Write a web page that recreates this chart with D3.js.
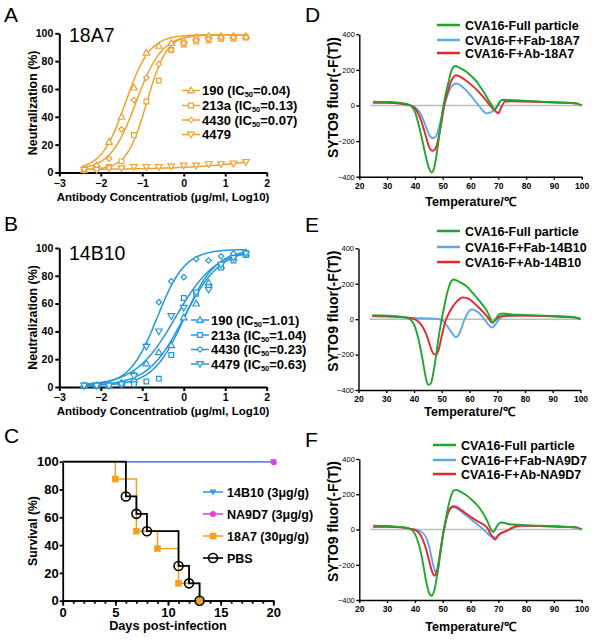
<!DOCTYPE html>
<html><head><meta charset="utf-8">
<script src="https://cdn.jsdelivr.net/npm/d3@7"></script>
<style>body{margin:0;background:#fff}svg{font-family:"Liberation Sans",Arial,sans-serif}</style>
</head><body><svg id="c" width="600" height="640"></svg>
<script>
// ---------------- DATA ----------------
const logConc = [-2.4,-2.1,-1.8,-1.5,-1.2,-0.9,-0.6,-0.3,0,0.3,0.6,0.9,1.2,1.5];
const strains = ["190","213a","4430","4479"];
const ic50A = ["0.04","0.13","0.07",null];
const ic50B = ["1.01","1.04","0.23","0.63"];
const neutA190  = [2,5,22,40,61,86,91,93,95,97,98,98,98,98];
const neutA213a = [2,3,4,8,27,51,66,88,92,94,95,96,96,97];
const neutA4430 = [2,5,10,31,52,68,78,88,93,95,96,97,97,97];
const neutA4479 = [2,2,3,3,4,4,4,4.5,5,5,6,6,6.5,7.5];
const neutB190  = [1,1,1,3,5,17,25,30,50,60,75,87,93,96];
const neutB213a = [1,1,1,2,2,4,6,23,64,67,72,86,91,95];
const neutB4430 = [1,1,2,3,9,30,61,76,79,92,91,94,96,97];
const neutB4479 = [1,1,1,2,8,29,40,51,57,68,70,88,93,96];
// 4-parameter logistic fits: [bottom, top, logIC50, hill]
const fitA = [[2,99,-1.4,1.5],[2,99,-0.89,1.8],[2,99,-1.15,1.4],[2,100,5,0.35]];
const fitB = [[1,99,0.004,1.0],[1,99,0.017,1.15],[1,99,-0.64,1.3],[1,99,-0.2,0.9]];
const xTicksAB = [-3,-2,-1,0,1,2];
const yTicksAB = [0,20,40,60,80,100];

const survGroups = ["14B10 (3μg/g)","NA9D7 (3μg/g)","18A7 (30μg/g)","PBS"];
const days14B10 = [0,20], surv14B10 = [100,100];
const daysNA9D7 = [0,20], survNA9D7 = [100,100];
const days18A7 = [0,5,7,9,11,13], surv18A7 = [100,87.5,50,37.5,12.5,0];
const daysPBS = [0,6,7,8,11,12,13], survPBS = [100,75,62.5,50,25,12.5,0];

const meltLegendD = ["CVA16-Full particle","CVA16-F+Fab-18A7","CVA16-F+Ab-18A7"];
const meltLegendE = ["CVA16-Full particle","CVA16-F+Fab-14B10","CVA16-F+Ab-14B10"];
const meltLegendF = ["CVA16-Full particle","CVA16-F+Fab-NA9D7","CVA16-F+Ab-NA9D7"];
const meltD_full = [[25,22],[30,20],[35,14],[38,4],[40,-35],[42,-150],[44,-290],[45,-350],[46,-376],[47,-345],[48,-255],[49,-140],[50,-25],[51,60],[52,125],[53,190],[54,218],[54.6,222],[56,212],[58,195],[60,170],[62,138],[63.5,105],[65,70],[66.4,32],[67.5,5],[68.7,-22],[69.5,-8],[70.5,20],[71.5,32],[74,30],[80,26],[85,22],[90,18],[95,14],[98,12],[100,0]];
const meltD_fab = [[25,20],[30,18],[35,12],[38,3],[40,-10],[42,-45],[44,-120],[45,-160],[46.4,-184],[47.5,-175],[48.5,-130],[49.5,-70],[50.5,0],[52,70],[53,105],[54.8,124],[56,117],[58,92],[60,58],[62,18],[63,0],[64.5,-30],[65.8,-44],[67,-40],[68.5,-25],[70,5],[71.2,30],[73,30],[80,25],[90,18],[98,12],[100,0]];
const meltD_ab = [[25,15],[30,15],[35,10],[38,2],[40,-15],[42,-75],[44,-175],[45,-228],[46.4,-255],[47.5,-240],[48.5,-180],[49.5,-100],[50.5,-5],[51.5,60],[53,135],[54.8,170],[56,164],[58,145],[60,120],[62,92],[64,58],[66,20],[68,-18],[69,-32],[70,-44],[71,-12],[72.4,22],[75,24],[85,20],[92,16],[98,12],[100,0]];
const meltE_full = [[25,22],[30,20],[35,14],[38,5],[40,-30],[42,-140],[43,-220],[44,-310],[45,-370],[46,-365],[47,-300],[48,-200],[49,-90],[50,0],[51,80],[52,150],[53,200],[54.2,224],[55.5,218],[57,205],[59,185],[61,150],[63,115],[65,75],[66.5,40],[67.6,0],[68.2,-22],[69,-10],[70,15],[71,30],[72,32],[75,27],[80,24],[85,21],[90,18],[95,14],[98,10],[100,0]];
const meltE_fab = [[25,18],[30,16],[35,10],[40,6],[45,4],[48,2],[50,-5],[52,-40],[54,-85],[55,-102],[56,-92],[57,-55],[58,-10],[59,25],[60,48],[61,55],[62,50],[63,40],[64,25],[65,5],[66,-15],[67,-35],[68,-48],[69,-38],[70,-15],[71,5],[72,15],[75,18],[80,20],[90,16],[98,10],[100,0]];
const meltE_ab = [[25,18],[30,16],[35,12],[38,8],[40,2],[42,-20],[44,-70],[45,-110],[46,-160],[47,-195],[48,-200],[49,-165],[50,-95],[51,-30],[52,15],[53,45],[54,72],[55,92],[56,108],[57.5,123],[59,120],[61,100],[63,70],[65,40],[67,2],[68,-18],[69,-10],[70,5],[71,15],[73,20],[80,20],[90,16],[98,10],[100,0]];
const meltF_full = [[25,22],[30,20],[35,14],[38,5],[40,-25],[42,-120],[43,-200],[44,-290],[45,-355],[46,-376],[47,-345],[48,-260],[49,-150],[50,-40],[51,50],[52,130],[53,190],[54,222],[55,225],[56,218],[58,200],[60,175],[62,145],[64,105],[66,50],[67.5,-5],[68.2,-15],[69,5],[70,30],[71,40],[72,38],[74,30],[78,26],[85,22],[92,17],[98,12],[100,0]];
const meltF_fab = [[25,18],[30,17],[35,12],[38,5],[40,0],[42,-10],[44,-45],[45,-90],[46,-160],[47,-225],[48,-252],[49,-150],[50,-40],[51,40],[52,95],[53,120],[54,126],[55,120],[56,110],[58,85],[60,60],[62,35],[64,8],[66,-20],[67,-35],[68,-42],[69,-45],[70,-30],[71,-22],[73,-8],[75,8],[78,18],[85,20],[92,16],[98,12],[100,0]];
const meltF_ab = [[25,15],[30,16],[35,12],[38,5],[40,-2],[42,-30],[44,-110],[45,-170],[46,-230],[47,-262],[48,-230],[49,-140],[50,-40],[51,40],[52,100],[53,125],[54,132],[55,128],[56,118],[58,95],[60,72],[62,52],[64,34],[66,10],[67,-20],[68,-45],[68.8,-57],[70,-35],[71,-20],[72,-14],[74,0],[76,18],[78,22],[85,20],[92,16],[98,12],[100,0]];

// ---------------- DRAWING ----------------
const FONT = '"Liberation Sans",Arial,sans-serif';
const svg = d3.select("#c");
const ORANGE = "#F2A12E", BLUE = "#2298DC";
const GREEN = "#22A52C", LBLUE = "#5DA8E8", RED = "#E8262B";
const fmt = d3.format("d");

function text(x, y, s, o = {}) {
  return svg.append("text").attr("x", x).attr("y", y).text(s)
    .attr("font-size", o.size || 12).attr("font-weight", o.weight || "normal")
    .attr("text-anchor", o.anchor || "start").attr("fill", "#000")
    .attr("font-family", FONT)
    .attr("transform", o.rot ? `rotate(-90,${x},${y})` : null);
}
function styleAxis(g, sw, fs, fw) {
  g.attr("font-family", FONT);
  g.select(".domain").attr("stroke", "#000").attr("stroke-width", sw);
  g.selectAll(".tick line").attr("stroke", "#000").attr("stroke-width", sw);
  g.selectAll(".tick text").attr("font-size", fs).attr("font-weight", fw).attr("fill", "#000");
}
const symTri = d3.symbol().type(d3.symbolTriangle).size(19);
const symSq = d3.symbol().type(d3.symbolSquare).size(22);
const symDia = d3.symbol().type(d3.symbolSquare).size(15);
function marker(g, kind, x, y, color, fill) {
  let p;
  if (kind === 0) p = g.append("path").attr("d", symTri()).attr("transform", `translate(${x},${y+0.5})`);
  else if (kind === 1) p = g.append("path").attr("d", symSq()).attr("transform", `translate(${x},${y})`);
  else if (kind === 2) p = g.append("path").attr("d", symDia()).attr("transform", `translate(${x},${y}) rotate(45)`);
  else p = g.append("path").attr("d", symTri()).attr("transform", `translate(${x},${y-0.5}) rotate(180)`);
  p.attr("fill", fill || "#fff").attr("stroke", color).attr("stroke-width", 1.2);
  return p;
}
function logistic(f, x) { return f[0] + (f[1] - f[0]) / (1 + Math.pow(10, (f[2] - x) * f[3])); }

function neutPanel(o) {
  const x = d3.scaleLinear([-3, 2], [59.3, 266.7]);
  const y = d3.scaleLinear([0, 100], [o.y0, o.y100]);
  const gx = svg.append("g").attr("transform", `translate(0,${o.y0})`)
    .call(d3.axisBottom(x).tickValues(xTicksAB).tickFormat(fmt).tickSize(4).tickSizeOuter(0).tickPadding(3));
  styleAxis(gx, 2, 10.5, "bold");
  const gy = svg.append("g").attr("transform", `translate(59.3,0)`)
    .call(d3.axisLeft(y).tickValues(yTicksAB).tickFormat(fmt).tickSize(4).tickSizeOuter(0).tickPadding(2));
  styleAxis(gy, 2, 10.5, "bold");
  const g = svg.append("g");
  const xs = d3.range(-2.45, 1.5001, 0.02);
  o.fits.forEach((f, i) => {
    g.append("path").datum(xs).attr("fill", "none").attr("stroke", o.color).attr("stroke-width", 1.5)
      .attr("d", d3.line().x(d => x(d)).y(d => y(logistic(f, d))));
  });
  o.series.forEach((s, i) => {
    s.forEach((v, j) => marker(g, i, x(logConc[j]), y(v), o.color));
  });
  text(4, o.letterY, o.letter, { size: 21 });
  text(69, o.titleY, o.title, { size: 19.5 });
  text(163, o.xlabY, "Antibody Concentratiob (μg/ml, Log10)", { size: 11.5, weight: "bold", anchor: "middle" });
  text(37, (o.y0 + o.y100) / 2, "Neutralization (%)", { size: 12.4, weight: "bold", anchor: "middle", rot: true });
  // legend
  o.legY.forEach((ly, i) => {
    g.append("line").attr("x1", o.legX).attr("x2", o.legX + 18).attr("y1", ly).attr("y2", ly)
      .attr("stroke", o.color).attr("stroke-width", 1.5);
    marker(g, i, o.legX + 9, ly, o.color);
    const t = text(o.legX + 20, ly + 4.6, "", { size: 13, weight: "bold" });
    if (o.ic50[i]) {
      t.append("tspan").text(strains[i] + " (IC");
      t.append("tspan").text("50").attr("font-size", 7.5).attr("dy", 2.2);
      t.append("tspan").text("=" + o.ic50[i] + ")").attr("dy", -2.2);
    } else t.text(strains[i]);
  });
}

neutPanel({ y0: 172.5, y100: 33.3, letter: "A", letterY: 22, title: "18A7", titleY: 42, xlabY: 201,
  color: ORANGE, fits: fitA, series: [neutA190, neutA213a, neutA4430, neutA4479], ic50: ic50A,
  legX: 182, legY: [90.5, 105.5, 120, 134.5] });
neutPanel({ y0: 387, y100: 248, letter: "B", letterY: 231, title: "14B10", titleY: 260, xlabY: 415,
  color: BLUE, fits: fitB, series: [neutB190, neutB213a, neutB4430, neutB4479], ic50: ic50B,
  legX: 191, legY: [320, 335, 349.5, 364] });

// ---- Panel C ----
(function () {
  const x = d3.scaleLinear([0, 20], [62.7, 273.3]);
  const y = d3.scaleLinear([0, 100], [600.7, 461.7]);
  const gxm = svg.append("g").attr("transform", `translate(0,600.7)`)
    .call(d3.axisBottom(x).tickValues(d3.range(0, 21, 1)).tickSize(3).tickSizeOuter(0).tickFormat(""));
  styleAxis(gxm, 1.8, 12, "bold");
  const gx = svg.append("g").attr("transform", `translate(0,600.7)`)
    .call(d3.axisBottom(x).tickValues([0,5,10,15,20]).tickFormat(fmt).tickSize(5).tickSizeOuter(0).tickPadding(2));
  styleAxis(gx, 1.8, 13, "bold");
  const gy = svg.append("g").attr("transform", `translate(62.7,0)`)
    .call(d3.axisLeft(y).tickValues([0,20,40,60,80,100]).tickFormat(fmt).tickSize(3).tickSizeOuter(0).tickPadding(1));
  styleAxis(gy, 1.8, 13, "bold");
  const line = d3.line().curve(d3.curveStepAfter).x(d => x(d[0])).y(d => y(d[1]));
  const zip = (a, b) => a.map((v, i) => [v, b[i]]);
  const g = svg.append("g");
  const groups = [
    { d: zip(daysNA9D7, survNA9D7), c: "#E23FE0", w: 1.5 },
    { d: zip(days14B10, surv14B10), c: "#3A9BEA", w: 1.5 },
    { d: zip(days18A7, surv18A7), c: "#F5A020", w: 1.5 },
    { d: zip(daysPBS, survPBS), c: "#000", w: 1.8 }];
  groups.forEach(s => g.append("path").datum(s.d).attr("fill", "none").attr("stroke", s.c).attr("stroke-width", s.w).attr("d", line));
  // markers
  const m14 = (gg, cx, cy) => gg.append("path").attr("d", d3.symbol().type(d3.symbolTriangle).size(20)()).attr("transform", `translate(${cx},${cy-0.5}) rotate(180)`).attr("fill", "#3A9BEA");
  const mNA = (gg, cx, cy) => gg.append("circle").attr("cx", cx).attr("cy", cy).attr("r", 3).attr("fill", "#E23FE0");
  const m18 = (gg, cx, cy) => gg.append("rect").attr("x", cx - 3.3).attr("y", cy - 3.3).attr("width", 6.6).attr("height", 6.6).attr("fill", "#F5A020");
  const mP = (gg, cx, cy) => gg.append("circle").attr("cx", cx).attr("cy", cy).attr("r", 4.5).attr("fill", "none").attr("stroke", "#000").attr("stroke-width", 1.6);
  m14(g, x(20), y(100)); mNA(g, x(20) + 0.5, y(100) + 0.5);
  days18A7.slice(1).forEach((d, i) => m18(g, x(d), y(surv18A7[i + 1])));
  daysPBS.slice(1).forEach((d, i) => mP(g, x(d), y(survPBS[i + 1])));
  const colors = ["#3A9BEA", "#E23FE0", "#F5A020", "#000"];
  const mk = [m14, mNA, m18, mP];
  [492, 514, 536, 558].forEach((ly, i) => {
    g.append("line").attr("x1", 203).attr("x2", 223).attr("y1", ly).attr("y2", ly).attr("stroke", colors[i]).attr("stroke-width", 1.6);
    mk[i](g, 213, ly);
    text(227, ly + 4.5, survGroups[i], { size: 12.5, weight: "bold" });
  });
  text(4, 443, "C", { size: 21 });
  text(168, 630, "Days post-infection", { size: 12.7, weight: "bold", anchor: "middle" });
  text(37, 531, "Survival (%)", { size: 12.2, weight: "bold", anchor: "middle", rot: true });
})();

// ---- Panels D, E, F ----
function meltPanel(o) {
  const x = d3.scaleLinear([20, 100], o.xr);
  const y = d3.scaleLinear([-400, 400], o.yr);
  const gx = svg.append("g").attr("transform", `translate(0,${o.yr[0]})`)
    .call(d3.axisBottom(x).tickValues(d3.range(20, 101, 10)).tickFormat(fmt).tickSize(3).tickSizeOuter(0).tickPadding(3));
  styleAxis(gx, 1.4, 8.5, "bold");
  const gy = svg.append("g").attr("transform", `translate(${o.xr[0]},0)`)
    .call(d3.axisLeft(y).tickValues([-400,-200,0,200,400]).tickFormat(fmt).tickSize(3).tickSizeOuter(0).tickPadding(1.5));
  styleAxis(gy, 1.4, 7.5, "normal");
  const g = svg.append("g");
  g.append("line").attr("x1", x(24)).attr("x2", x(100)).attr("y1", y(0)).attr("y2", y(0))
    .attr("stroke", "#BDBDBD").attr("stroke-width", 1.5);
  const line = d3.line().curve(d3.curveMonotoneX).x(d => x(d[0])).y(d => y(d[1]));
  [[o.fab, LBLUE], [o.ab, RED], [o.full, GREEN]].forEach(([d, c]) =>
    g.append("path").datum(d).attr("fill", "none").attr("stroke", c).attr("stroke-width", 1.9).attr("d", line));
  const lc = [GREEN, LBLUE, RED];
  o.legY.forEach((ly, i) => {
    g.append("line").attr("x1", o.legX).attr("x2", o.legX + 23).attr("y1", ly).attr("y2", ly).attr("stroke", lc[i]).attr("stroke-width", 2.5);
    text(o.legX + 28, ly + 4.5, o.leg[i], { size: 12.5, weight: "bold" });
  });
  text(305, o.letterY, o.letter, { size: 21 });
  const xm = (o.xr[0] + o.xr[1]) / 2;
  text(xm, o.xlabY, "Temperature/℃", { size: 12.5, weight: "bold", anchor: "middle" });
  text(338, (o.yr[0] + o.yr[1]) / 2 - 8, "SYTO9 fluor(-F(T))", { size: 14, weight: "bold", anchor: "middle", rot: true });
}
meltPanel({ xr: [359.3, 581.7], yr: [176.7, 34.3], full: meltD_full, fab: meltD_fab, ab: meltD_ab,
  leg: meltLegendD, legX: 437, legY: [25, 40, 53], letter: "D", letterY: 22, xlabY: 206 });
meltPanel({ xr: [358.5, 580.5], yr: [390, 248.3], full: meltE_full, fab: meltE_fab, ab: meltE_ab,
  leg: meltLegendE, legX: 437, legY: [231, 247, 262], letter: "E", letterY: 232, xlabY: 416 });
meltPanel({ xr: [359.3, 581.7], yr: [600, 459], full: meltF_full, fab: meltF_fab, ab: meltF_ab,
  leg: meltLegendF, legX: 433, legY: [445, 460, 474], letter: "F", letterY: 447, xlabY: 631 });
</script></body></html>
